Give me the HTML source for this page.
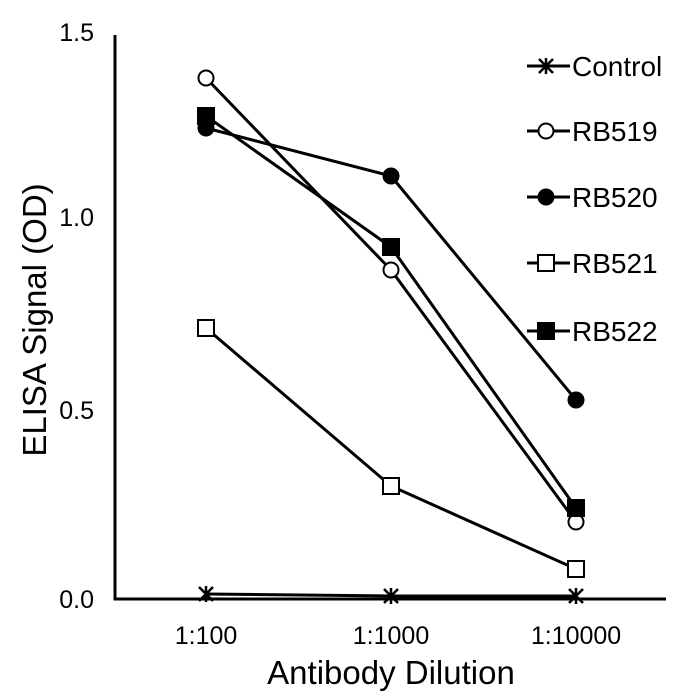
<!DOCTYPE html>
<html><head><style>body{margin:0;background:#fff}</style></head><body>
<svg width="693" height="693" xmlns="http://www.w3.org/2000/svg" font-family="Liberation Sans, sans-serif">
<rect width="693" height="693" fill="#fff"/>
<path d="M115 35 V599 H666" fill="none" stroke="#000" stroke-width="3"/>
<g font-size="25" text-anchor="end" fill="#000">
<text x="94" y="41">1.5</text><text x="94" y="226">1.0</text><text x="94" y="419">0.5</text><text x="94" y="608">0.0</text>
</g>
<g font-size="25" text-anchor="middle">
<text x="206" y="644">1:100</text><text x="391" y="644">1:1000</text><text x="576" y="644">1:10000</text>
</g>
<text x="391" y="684" font-size="33" text-anchor="middle">Antibody Dilution</text>
<text transform="translate(46,320) rotate(-90)" font-size="33" text-anchor="middle">ELISA Signal (OD)</text>
<g fill="none" stroke="#000" stroke-width="3">
<polyline points="206,594 391,596 576,596"/>
<polyline points="206,78 391,270 576,522"/>
<polyline points="206,128 391,176 576,400"/>
<polyline points="206,328 391,486 576,569"/>
<polyline points="206,116 391,247 576,508"/>
</g>
<g stroke="#000" stroke-width="2.5">
<path d="M199 587l14 14M213 587l-14 14M206 586v16M384 589l14 14M398 589l-14 14M391 588v16M569 589l14 14M583 589l-14 14M576 588v16"/>
</g>
<g stroke="#000" stroke-width="2">
<circle cx="206" cy="78" r="7.5" fill="#fff"/><circle cx="391" cy="270" r="7.5" fill="#fff"/><circle cx="576" cy="522" r="7.5" fill="#fff"/>
<circle cx="206" cy="128" r="7.5" fill="#000"/><circle cx="391" cy="176" r="7.5" fill="#000"/><circle cx="576" cy="400" r="7.5" fill="#000"/>
<rect x="198" y="320" width="16" height="16" fill="#fff"/><rect x="383" y="478" width="16" height="16" fill="#fff"/><rect x="568" y="561" width="16" height="16" fill="#fff"/>
<rect x="198" y="108" width="16" height="16" fill="#000"/><rect x="383" y="239" width="16" height="16" fill="#000"/><rect x="568" y="500" width="16" height="16" fill="#000"/>
</g>
<g stroke="#000" stroke-width="3">
<line x1="527" y1="66" x2="570" y2="66"/><line x1="527" y1="131" x2="570" y2="131"/><line x1="527" y1="197" x2="570" y2="197"/><line x1="527" y1="263" x2="570" y2="263"/><line x1="527" y1="331" x2="570" y2="331"/>
</g>
<g stroke="#000" stroke-width="2">
<path d="M539 59l14 14M553 59l-14 14M546 58v16" stroke-width="2.5"/>
<circle cx="546" cy="131" r="7.5" fill="#fff"/>
<circle cx="546" cy="197" r="7.5" fill="#000"/>
<rect x="538" y="255" width="16" height="16" fill="#fff"/>
<rect x="538" y="323" width="16" height="16" fill="#000"/>
</g>
<g font-size="28">
<text x="572" y="76">Control</text><text x="572" y="141">RB519</text><text x="572" y="207">RB520</text><text x="572" y="273">RB521</text><text x="572" y="341">RB522</text>
</g>
</svg>
</body></html>
